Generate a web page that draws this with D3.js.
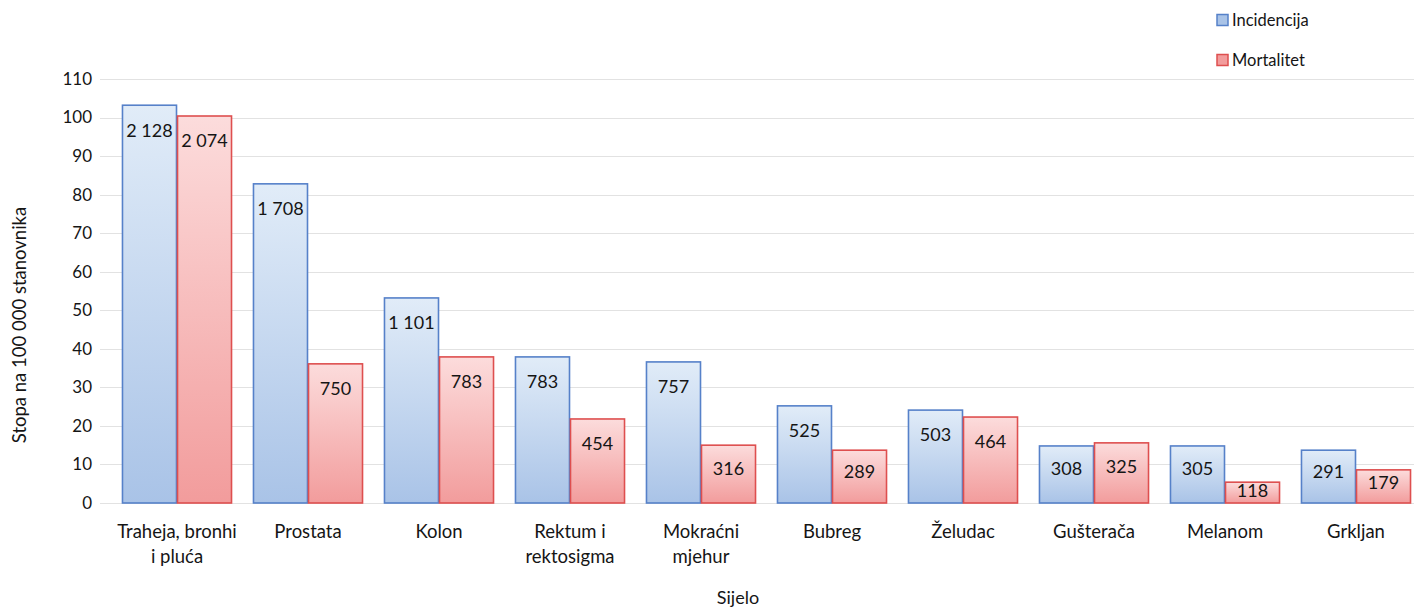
<!DOCTYPE html>
<html>
<head>
<meta charset="utf-8">
<style>
  body { margin: 0; background: #fff; }
  svg text { font-family: Lato, "Open Sans", sans-serif; fill: #151515; }
  .grid line { stroke: #e2e2e2; stroke-width: 1; }
  .tick-y text { font-size: 17px; }
</style>
</head>
<body>
<script src="https://cdnjs.cloudflare.com/ajax/libs/d3/7.8.5/d3.min.js"></script>
<script>
// data
var categories = ["Traheja, bronhi\ni pluća", "Prostata", "Kolon", "Rektum i\nrektosigma", "Mokraćni\nmjehur",
                  "Bubreg", "Želudac", "Gušterača", "Melanom", "Grkljan"];
var incidencijaRate = [103.2, 82.8, 53.2, 37.9, 36.6, 25.2, 24.1, 14.8, 14.8, 13.7];
var mortalitetRate  = [100.4, 36.1, 37.9, 21.8, 15.0, 13.7, 22.3, 15.6, 5.4, 8.6];
var incidencijaCount = [2128, 1708, 1101, 783, 757, 525, 503, 308, 305, 291];
var mortalitetCount  = [2074, 750, 783, 454, 316, 289, 464, 325, 118, 179];
var series = ["Incidencija", "Mortalitet"];
var yTicks = [0, 10, 20, 30, 40, 50, 60, 70, 80, 90, 100, 110];

var W = 1414, H = 607;
var plotLeft = 111.5, plotRight = 1421.5, plotTop = 79, plotBottom = 503;

var svg = d3.select("body").append("svg").attr("width", W).attr("height", H);

var defs = svg.append("defs");
function grad(id, c1, c2) {
  var g = defs.append("linearGradient").attr("id", id)
    .attr("x1", 0).attr("y1", 0).attr("x2", 0).attr("y2", 1);
  g.append("stop").attr("offset", "0%").attr("stop-color", c1);
  g.append("stop").attr("offset", "100%").attr("stop-color", c2);
}
grad("gBlue", "#e1ecf8", "#a9c3e7");
grad("gRed", "#fcdcdc", "#f29c9c");

var colors = {
  "Incidencija": { fill: "url(#gBlue)", stroke: "#5681c9" },
  "Mortalitet": { fill: "url(#gRed)", stroke: "#de4f4f" }
};

var x0 = d3.scaleBand().domain(categories).range([plotLeft, plotRight]).paddingInner(0.16).paddingOuter(0.08);
var x1 = d3.scaleBand().domain(series).range([0, x0.bandwidth()]);
var y = d3.scaleLinear().domain([0, 110]).range([plotBottom, plotTop]);

// gridlines
svg.append("g").attr("class", "grid")
  .selectAll("line").data(yTicks).enter().append("line")
  .attr("x1", 100).attr("x2", W)
  .attr("y1", function(d) { return Math.round(y(d)) + 0.5; })
  .attr("y2", function(d) { return Math.round(y(d)) + 0.5; });

// y axis labels
svg.append("g").attr("class", "tick-y")
  .selectAll("text").data(yTicks).enter().append("text")
  .attr("x", 92).attr("y", function(d) { return y(d); })
  .attr("dy", "0.35em").attr("text-anchor", "end")
  .text(function(d) { return d; });

var fmt = d3.formatLocale({ decimal: ",", thousands: " ", grouping: [3], currency: ["", ""] }).format(",d");

var rows = categories.map(function(c, i) {
  return { cat: c, vals: [
    { s: "Incidencija", v: incidencijaRate[i], n: incidencijaCount[i] },
    { s: "Mortalitet", v: mortalitetRate[i], n: mortalitetCount[i] }
  ]};
});

var groups = svg.append("g").selectAll("g").data(rows).enter().append("g")
  .attr("transform", function(d) { return "translate(" + x0(d.cat) + ",0)"; });

groups.selectAll("rect").data(function(d) { return d.vals; }).enter().append("rect")
  .attr("x", function(d) { return x1(d.s) + 0.5; })
  .attr("y", function(d) { return y(d.v); })
  .attr("width", x1.bandwidth() - 1)
  .attr("height", function(d) { return plotBottom - y(d.v); })
  .attr("fill", function(d) { return colors[d.s].fill; })
  .attr("stroke", function(d) { return colors[d.s].stroke; })
  .attr("stroke-width", 1.6);

groups.selectAll("text.val").data(function(d) { return d.vals; }).enter().append("text")
  .attr("class", "val")
  .attr("x", function(d) { return x1(d.s) + x1.bandwidth() / 2; })
  .attr("y", function(d) {
    var h = plotBottom - y(d.v);
    return y(d.v) + Math.min(25, h * 0.4);
  })
  .attr("dy", "0.35em").attr("text-anchor", "middle")
  .style("font-size", "18px")
  .text(function(d) { return fmt(d.n); });

// category labels
var catLabels = svg.append("g").selectAll("text").data(categories).enter().append("text")
  .attr("text-anchor", "middle")
  .style("font-size", "18.5px")
  .attr("transform", function(d) { return "translate(" + (x0(d) + x0.bandwidth() / 2) + ",532)"; });
catLabels.selectAll("tspan").data(function(d) { return d.split("\n"); }).enter().append("tspan")
  .attr("x", 0).attr("dy", function(d, i) { return i === 0 ? "0.35em" : "1.3em"; })
  .text(function(d) { return d; });

// axis titles
svg.append("text").attr("x", 738).attr("y", 598).attr("dy", "0.35em")
  .attr("text-anchor", "middle").style("font-size", "18px").text("Sijelo");
svg.append("text")
  .attr("transform", "translate(20,325) rotate(-90)")
  .attr("dy", "0.35em").attr("text-anchor", "middle")
  .style("font-size", "18.5px").text("Stopa na 100 000 stanovnika");

// legend
var legend = svg.append("g").selectAll("g").data(series).enter().append("g")
  .attr("transform", function(d, i) { return "translate(1217," + (20 + i * 40) + ")"; });
legend.append("rect").attr("x", 0).attr("y", -5.5).attr("width", 11).attr("height", 11)
  .attr("fill", function(d) { return d === "Incidencija" ? "#a9c3e7" : "#f29c9c"; })
  .attr("stroke", function(d) { return colors[d].stroke; }).attr("stroke-width", 1.5);
legend.append("text").attr("x", 15).attr("dy", "0.35em")
  .style("font-size", "16.5px").text(function(d) { return d; });
</script>
</body>
</html>
